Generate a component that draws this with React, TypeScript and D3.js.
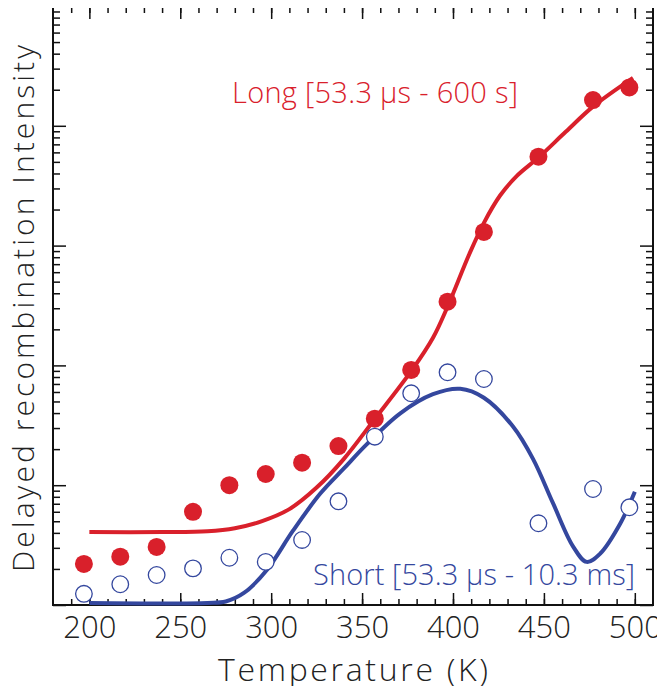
import { useEffect, useRef } from "react";
import * as d3 from "d3";

// measured temperatures (K) of the data points
const TEMPS = [197, 217, 237, 257, 277, 297, 317, 337, 357, 377, 397, 417, 447, 477, 497];
// long window [53.3 us - 600 s], filled red dots
const LONG_VALUES = [2.2, 2.53, 3.05, 6.0, 10.0, 12.4, 15.4, 21.2, 35.9, 91.6, 340, 1300, 5520, 16400, 20900];
// short window [53.3 us - 10.3 ms], open blue circles
const SHORT_VALUES = [1.24, 1.49, 1.78, 2.02, 2.48, 2.29, 3.49, 7.34, 25.4, 58.5, 87.6, 77, 4.81, 9.3, 6.54];

// fit curves
const LONG_FIT_T = [200, 240, 265, 280, 295, 310, 325, 340, 357, 377.5, 389, 397, 409, 417, 426, 435, 447, 462, 477, 499];
const LONG_FIT_V = [4.06, 4.06, 4.12, 4.37, 5.01, 6.31, 9.55, 16.6, 35.7, 91.6, 170, 309, 851, 1549, 2630, 3800, 5430, 8910, 14450, 25100];
const SHORT_FIT_T = [200, 265, 275, 285, 297.5, 312, 327, 340, 352.5, 371, 389, 404, 417, 433, 444, 455, 466, 473.5, 481, 492, 500];
const SHORT_FIT_V = [1.04, 1.04, 1.07, 1.26, 1.95, 4.17, 8.51, 13.8, 21.9, 39.8, 57.5, 63.8, 53.7, 30.9, 16.6, 7.08, 3.09, 2.29, 2.69, 4.79, 8.83];

const X_MAJOR = [200, 250, 300, 350, 400, 450, 500];
const X_MINOR = d3.range(190, 510, 10);
const Y_MAJOR = [1, 10, 100, 1000, 10000, 100000];

const RED = "#d9202b";
const BLUE = "#34479e";
const FONT = "'Open Sans', 'DejaVu Sans', sans-serif";

const W = 665;
const H = 694;
const margin = { left: 53, right: 12, top: 6, bottom: 89 };

const Chart = () => {
  const svgRef = useRef(null);

  useEffect(() => {
    const svg = d3.select(svgRef.current);
    svg.selectAll("*").remove();

    const x = d3.scaleLinear().domain([180, 510]).range([margin.left, W - margin.right]);
    const y = d3.scaleLog().domain([1, 100000]).range([H - margin.bottom, margin.top]);

    // log minor ticks 2..9 of each decade
    const yMinor = [];
    for (let d = 1; d < 100000; d *= 10) {
      for (let k = 2; k <= 9; k++) yMinor.push(d * k);
    }

    const x0 = margin.left, x1 = W - margin.right;
    const y0 = H - margin.bottom, y1 = margin.top;

    const axisStyle = (g) => {
      g.select(".domain").remove();
      g.selectAll(".tick line").attr("stroke", "#111").attr("stroke-width", 1.5);
    };

    // bottom axis
    svg.append("g").attr("transform", `translate(0,${y0})`)
      .call(d3.axisBottom(x).tickValues(X_MINOR).tickSize(-6).tickFormat(() => ""))
      .call(axisStyle);
    svg.append("g").attr("transform", `translate(0,${y0})`)
      .call(d3.axisBottom(x).tickValues(X_MAJOR).tickSize(-12).tickPadding(11).tickFormat(d3.format("d")))
      .call(axisStyle)
      .call((g) => g.selectAll("text").attr("font-family", FONT).attr("font-weight", 300)
        .attr("font-size", 31).attr("fill", "#222"));

    // top axis (mirrored)
    svg.append("g").attr("transform", `translate(0,${y1})`)
      .call(d3.axisTop(x).tickValues(X_MINOR).tickSize(-7).tickFormat(() => ""))
      .call(axisStyle);
    svg.append("g").attr("transform", `translate(0,${y1})`)
      .call(d3.axisTop(x).tickValues(X_MAJOR).tickSize(-13).tickFormat(() => ""))
      .call(axisStyle);

    // left and right log axes, no labels
    [[x0, d3.axisLeft], [x1, d3.axisRight]].forEach(([px, ax]) => {
      svg.append("g").attr("transform", `translate(${px},0)`)
        .call(ax(y).tickValues(yMinor).tickSize(-7).tickFormat(() => ""))
        .call(axisStyle);
      svg.append("g").attr("transform", `translate(${px},0)`)
        .call(ax(y).tickValues(Y_MAJOR).tickSize(-13).tickFormat(() => ""))
        .call(axisStyle);
    });

    // frame
    svg.append("rect")
      .attr("x", x0).attr("y", y1)
      .attr("width", x1 - x0).attr("height", y0 - y1)
      .attr("fill", "none").attr("stroke", "#111").attr("stroke-width", 2);

    const line = d3.line().x((d) => x(d[0])).y((d) => y(d[1])).curve(d3.curveCatmullRom.alpha(0.5));

    const plot = svg.append("g");
    plot.append("path")
      .attr("d", line(d3.zip(SHORT_FIT_T, SHORT_FIT_V)))
      .attr("fill", "none").attr("stroke", BLUE).attr("stroke-width", 4);
    plot.append("path")
      .attr("d", line(d3.zip(LONG_FIT_T, LONG_FIT_V)))
      .attr("fill", "none").attr("stroke", RED).attr("stroke-width", 4);

    plot.selectAll(".long")
      .data(d3.zip(TEMPS, LONG_VALUES))
      .join("circle")
      .attr("class", "long")
      .attr("cx", (d) => x(d[0])).attr("cy", (d) => y(d[1]))
      .attr("r", 9).attr("fill", RED);

    plot.selectAll(".short")
      .data(d3.zip(TEMPS, SHORT_VALUES))
      .join("circle")
      .attr("class", "short")
      .attr("cx", (d) => x(d[0])).attr("cy", (d) => y(d[1]))
      .attr("r", 8.3).attr("fill", "#fff").attr("stroke", BLUE).attr("stroke-width", 1.3);

    // series labels
    svg.append("text")
      .attr("x", 232).attr("y", 103)
      .attr("font-family", FONT).attr("font-weight", 300).attr("font-size", 29).attr("fill", RED)
      .attr("textLength", 286)
      .text("Long [53.3 μs - 600 s]");
    svg.append("text")
      .attr("x", 313).attr("y", 585)
      .attr("font-family", FONT).attr("font-weight", 300).attr("font-size", 29).attr("fill", BLUE)
      .attr("textLength", 322)
      .text("Short [53.3 μs - 10.3 ms]");

    // axis titles
    svg.append("text")
      .attr("x", (x0 + x1) / 2).attr("y", 681)
      .attr("text-anchor", "middle")
      .attr("font-family", FONT).attr("font-weight", 300).attr("font-size", 32).attr("fill", "#222")
      .attr("textLength", 270)
      .text("Temperature (K)");
    svg.append("text")
      .attr("transform", `translate(34,${(y0 + y1) / 2 + 3}) rotate(-90)`)
      .attr("text-anchor", "middle")
      .attr("font-family", FONT).attr("font-weight", 300).attr("font-size", 30).attr("fill", "#222")
      .attr("textLength", 527)
      .text("Delayed recombination Intensity");
  }, []);

  return <svg ref={svgRef} width={W} height={H} style={{ display: "block", background: "#fff" }}></svg>;
};

export default function App() {
  return (
    <div style={{ margin: -8 }}>
      <Chart />
    </div>
  );
}
